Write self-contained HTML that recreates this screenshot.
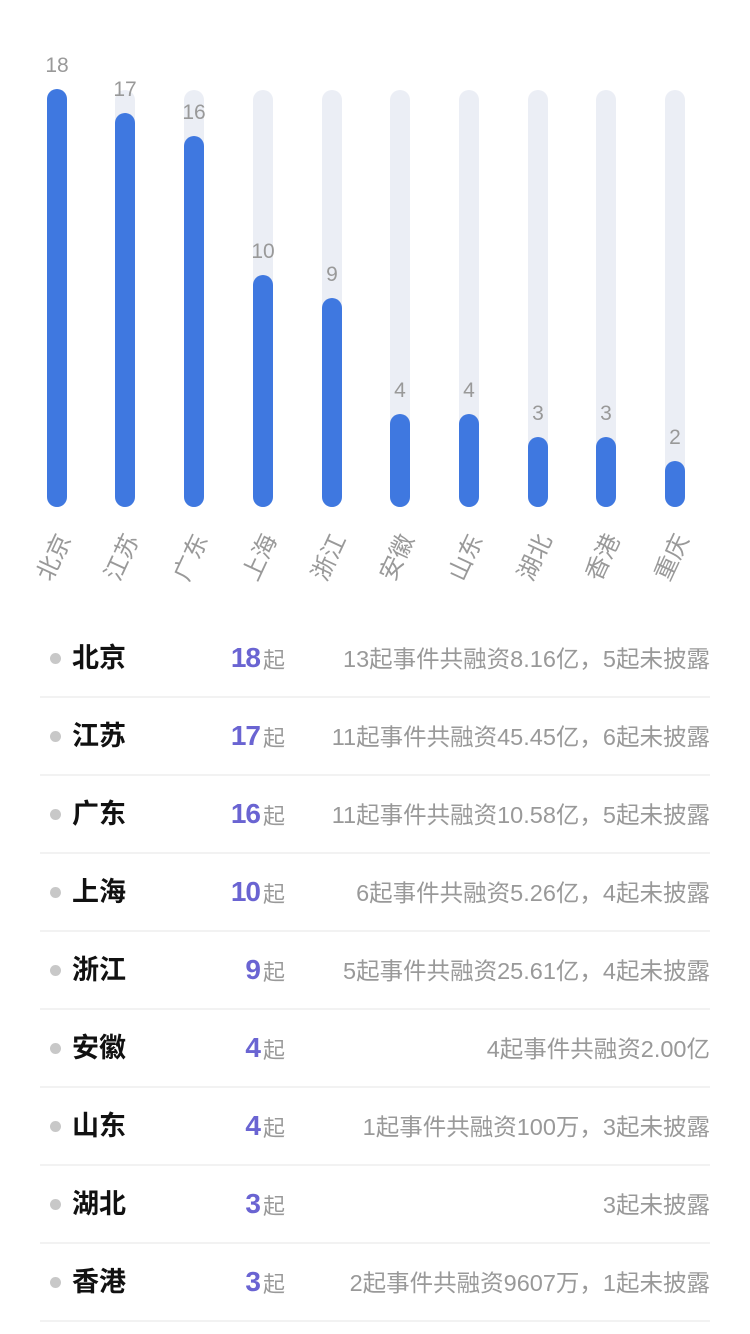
<!DOCTYPE html>
<html><head><meta charset="utf-8"><style>
body{margin:0;width:750px;height:1334px;background:#fff;position:relative;overflow:hidden;font-family:"Liberation Sans","Noto Sans CJK SC",sans-serif;}
.t{position:absolute;width:20px;border-radius:10px;background:#ebeef5;}
.b{position:absolute;width:20px;border-radius:10px;background:#3f78e0;}
.v{position:absolute;width:60px;text-align:center;color:#999;font-size:21px;}
.x{position:absolute;color:#999;font-size:24px;transform-origin:right center;transform:rotate(-65deg);white-space:nowrap;text-align:right;width:60px;line-height:24px;}
.row{position:absolute;left:40px;width:670px;height:78px;border-bottom:2px solid #f2f2f2;box-sizing:border-box;}
.dot{position:absolute;left:10px;top:33px;width:11px;height:11px;border-radius:50%;background:#c8c8c8;}
.nm{position:absolute;left:32px;top:22px;font-size:27px;line-height:32px;font-weight:bold;color:#111;}
.num{position:absolute;right:450px;top:22px;font-size:28px;line-height:32px;color:#6a64d2;font-weight:bold;letter-spacing:-1px;}
.qi{position:absolute;left:223px;top:26px;font-size:22px;line-height:30px;color:#999;}
.ds{position:absolute;right:0;top:24px;font-size:23.5px;line-height:30px;color:#999;}
</style></head><body>
<div id="c"></div>
<script>
(function(){
var names=["北京","江苏","广东","上海","浙江","安徽","山东","湖北","香港","重庆"];
var vals=[18,17,16,10,9,4,4,3,3,2];
var xs=[57,125,194,263,332,400,469,538,606,675];
var h="";
for(var i=0;i<10;i++){
var tp=507-vals[i]*23.2;
h+='<div class="t" style="left:'+(xs[i]-10)+'px;top:90px;height:417px"></div>';
h+='<div class="b" style="left:'+(xs[i]-10)+'px;top:'+tp+'px;height:'+(507-tp)+'px"></div>';
h+='<div class="v" style="left:'+(xs[i]-30)+'px;top:'+(tp-35)+'px">'+vals[i]+'</div>';
h+='<div class="x" style="left:'+(xs[i]-60+8)+'px;top:524px">'+names[i]+'</div>';
}
var rows=[["北京",18,"13起事件共融资8.16亿，5起未披露"],["江苏",17,"11起事件共融资45.45亿，6起未披露"],["广东",16,"11起事件共融资10.58亿，5起未披露"],["上海",10,"6起事件共融资5.26亿，4起未披露"],["浙江",9,"5起事件共融资25.61亿，4起未披露"],["安徽",4,"4起事件共融资2.00亿"],["山东",4,"1起事件共融资100万，3起未披露"],["湖北",3,"3起未披露"],["香港",3,"2起事件共融资9607万，1起未披露"]];
for(var j=0;j<rows.length;j++){
h+='<div class="row" style="top:'+(620+j*78)+'px"><div class="dot"></div><div class="nm">'+rows[j][0]+'</div><div class="num">'+rows[j][1]+'</div><div class="qi">起</div><div class="ds">'+rows[j][2]+'</div></div>';
}
document.getElementById("c").innerHTML=h;
})();
</script>
</body></html>
